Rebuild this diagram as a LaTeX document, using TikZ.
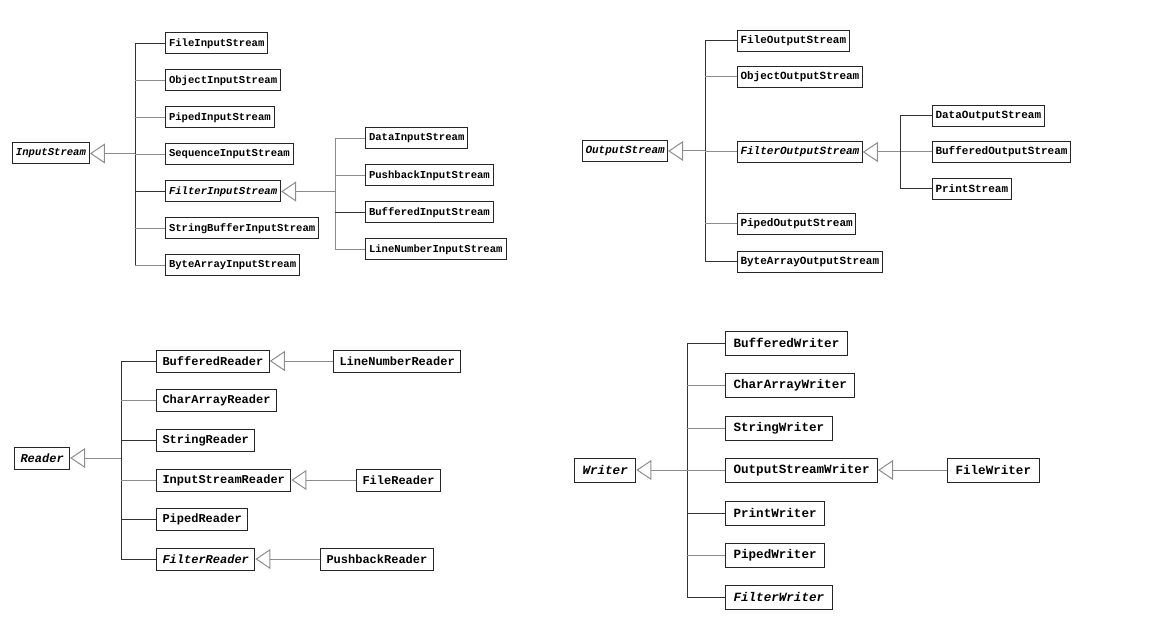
\documentclass[tikz,border=0pt]{standalone}
\usepackage{fontspec}
\setmonofont{Liberation Mono}
\usetikzlibrary{arrows.meta}
\begin{document}
\begin{tikzpicture}[x=1pt,y=-1pt]
        \tikzstyle{isbox}=[draw=black!85,line width=1pt,anchor=west,inner ysep=0pt,inner xsep=3.5pt,minimum height=21pt,font=\ttfamily\bfseries\fontsize{10.6}{12}\selectfont]
        \tikzstyle{osbox}=[isbox,inner xsep=3pt,font=\ttfamily\bfseries\fontsize{11}{13}\selectfont]
        \tikzstyle{rdbox}=[isbox,inner xsep=6pt,minimum height=22pt,font=\ttfamily\bfseries\fontsize{12}{14}\selectfont]
        \tikzstyle{wrbox}=[isbox,inner xsep=8pt,minimum height=24pt,font=\ttfamily\bfseries\fontsize{12.6}{15}\selectfont]
        \tikzstyle{light}=[draw=black!45,line width=1pt]
        \tikzstyle{dark}=[draw=black!80,line width=1pt]
        \tikzstyle{inherit}=[light,-{Triangle[open,length=15pt,width=20pt]}]
        \useasboundingbox (0,0) rectangle (1158,617);

        % InputStream
        \node[isbox] (is) at (12,153.5) {\itshape InputStream};
        \node[isbox] (fis) at (165,43.5) {FileInputStream};
        \node[isbox] (ois) at (165,80.5) {ObjectInputStream};
        \node[isbox] (pis) at (165,117.5) {PipedInputStream};
        \node[isbox] (sis) at (165,154.5) {SequenceInputStream};
        \node[isbox] (filis) at (165,191.5) {\itshape FilterInputStream};
        \node[isbox] (sbis) at (165,228.5) {StringBufferInputStream};
        \node[isbox] (bais) at (165,265.5) {ByteArrayInputStream};
        \node[isbox] (dis) at (365,138.5) {DataInputStream};
        \node[isbox] (pbis) at (365,175.5) {PushbackInputStream};
        \node[isbox] (bis) at (365,212.5) {BufferedInputStream};
        \node[isbox] (lnis) at (365,249.5) {LineNumberInputStream};
        \coordinate (jis) at (135,153.5);
        \coordinate (jfilis) at (335,191.5);

        \draw[inherit] (jis) -- (is.east);
        \draw[dark] (jis |- fis.west) -- (jis |- bais.west);
        \draw[dark] (jis |- fis.west) -- (fis.west);
        \draw[light] (jis |- ois.west) -- (ois.west);
        \draw[light] (jis |- pis.west) -- (pis.west);
        \draw[light] (jis |- sis.west) -- (sis.west);
        \draw[dark] (jis |- filis.west) -- (filis.west);
        \draw[light] (jis |- sbis.west) -- (sbis.west);
        \draw[light] (jis |- bais.west) -- (bais.west);
        \draw[inherit] (jfilis) -- (filis.east);
        \draw[light] (jfilis |- dis.west) -- (jfilis |- lnis.west);
        \draw[light] (jfilis |- dis.west) -- (dis.west);
        \draw[light] (jfilis |- pbis.west) -- (pbis.west);
        \draw[dark] (jfilis |- bis.west) -- (bis.west);
        \draw[light] (jfilis |- lnis.west) -- (lnis.west);

        % OutputStream
        \node[osbox] (os) at (582,151) {\itshape OutputStream};
        \node[osbox] (fos) at (737,41) {FileOutputStream};
        \node[osbox] (oos) at (737,77) {ObjectOutputStream};
        \node[osbox] (filos) at (737,152) {\itshape FilterOutputStream};
        \node[osbox] (pos) at (737,224) {PipedOutputStream};
        \node[osbox] (baos) at (737,262) {ByteArrayOutputStream};
        \node[osbox] (dos) at (932,116) {DataOutputStream};
        \node[osbox] (bos) at (932,152) {BufferedOutputStream};
        \node[osbox] (ps) at (932,189) {PrintStream};
        \coordinate (jos) at (705,151);
        \coordinate (jfilos) at (900,152);

        \draw[inherit] (jos) -- (os.east);
        \draw[dark] (jos |- fos.west) -- (jos |- baos.west);
        \draw[dark] (jos |- fos.west) -- (fos.west);
        \draw[light] (jos |- oos.west) -- (oos.west);
        \draw[light] (jos |- filos.west) -- (filos.west);
        \draw[light] (jos |- pos.west) -- (pos.west);
        \draw[dark] (jos |- baos.west) -- (baos.west);
        \draw[inherit] (bos.west) -- (filos.east);
        \draw[dark] (jfilos |- dos.west) -- (jfilos |- ps.west);
        \draw[dark] (jfilos |- dos.west) -- (dos.west);
        \draw[dark] (jfilos |- ps.west) -- (ps.west);

        % Reader
        \node[rdbox] (rd) at (14,458) {\itshape Reader};
        \node[rdbox] (br) at (156,361) {BufferedReader};
        \node[rdbox] (car) at (156,400) {CharArrayReader};
        \node[rdbox] (sr) at (156,440) {StringReader};
        \node[rdbox] (isr) at (156,480) {InputStreamReader};
        \node[rdbox] (pr) at (156,519) {PipedReader};
        \node[rdbox] (fr) at (156,559) {\itshape FilterReader};
        \node[rdbox] (lnr) at (333,361) {LineNumberReader};
        \node[rdbox] (frd) at (356,480) {FileReader};
        \node[rdbox] (pbr) at (320,559) {PushbackReader};
        \coordinate (jrd) at (121,458);

        \draw[inherit] (jrd) -- (rd.east);
        \draw[dark] (jrd |- br.west) -- (jrd |- fr.west);
        \draw[dark] (jrd |- br.west) -- (br.west);
        \draw[light] (jrd |- car.west) -- (car.west);
        \draw[dark] (jrd |- sr.west) -- (sr.west);
        \draw[light] (jrd |- isr.west) -- (isr.west);
        \draw[dark] (jrd |- pr.west) -- (pr.west);
        \draw[dark] (jrd |- fr.west) -- (fr.west);
        \draw[inherit] (lnr.west) -- (br.east);
        \draw[inherit] (frd.west) -- (isr.east);
        \draw[inherit] (pbr.west) -- (fr.east);

        % Writer
        \node[wrbox] (wr) at (574,470) {\itshape Writer};
        \node[wrbox] (bw) at (725,343) {BufferedWriter};
        \node[wrbox] (caw) at (725,385) {CharArrayWriter};
        \node[wrbox] (sw) at (725,428) {StringWriter};
        \node[wrbox] (osw) at (725,470) {OutputStreamWriter};
        \node[wrbox] (pw) at (725,513) {PrintWriter};
        \node[wrbox] (piw) at (725,555) {PipedWriter};
        \node[wrbox] (fw) at (725,597) {\itshape FilterWriter};
        \node[wrbox] (fwr) at (947,470) {FileWriter};
        \coordinate (jwr) at (687,470);

        \draw[inherit] (jwr) -- (wr.east);
        \draw[dark] (jwr |- bw.west) -- (jwr |- fw.west);
        \draw[dark] (jwr |- bw.west) -- (bw.west);
        \draw[light] (jwr |- caw.west) -- (caw.west);
        \draw[light] (jwr |- sw.west) -- (sw.west);
        \draw[light] (jwr |- osw.west) -- (osw.west);
        \draw[dark] (jwr |- pw.west) -- (pw.west);
        \draw[light] (jwr |- piw.west) -- (piw.west);
        \draw[dark] (jwr |- fw.west) -- (fw.west);
        \draw[inherit] (fwr.west) -- (osw.east);
    \end{tikzpicture}
\end{document}
